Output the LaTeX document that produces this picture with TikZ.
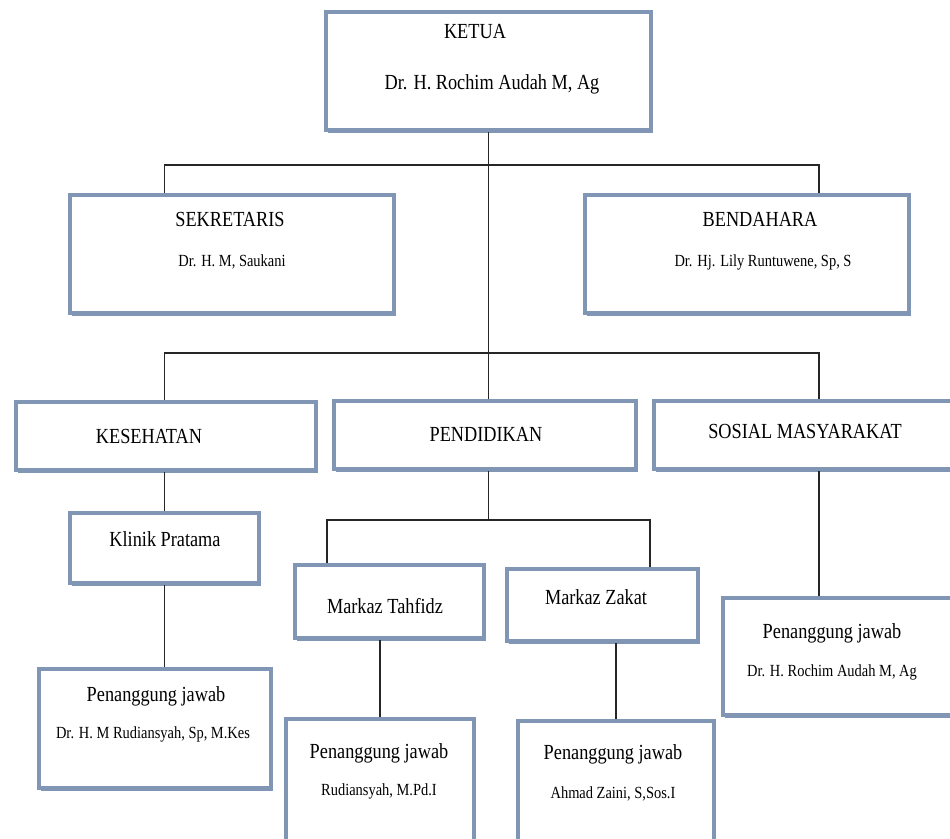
\documentclass[tikz,border=0pt]{standalone}
\usepackage{fontspec}
\setmainfont{Liberation Serif}[FakeStretch=0.85]
\usepackage{tikz}
\usetikzlibrary{shadows}
\definecolor{boxblue}{RGB}{128,150,180}

\begin{document}
\begin{tikzpicture}[x=1pt, y=-1pt,
    box/.style={draw=boxblue, line width=4.5pt, fill=white, rectangle,
        drop shadow={shadow xshift=2pt, shadow yshift=-2.5pt, fill=boxblue, opacity=1}},
    big/.style={font=\fontsize{21.5}{24}\selectfont, text height=0.66em, text depth=0pt, inner sep=0pt, yshift=-3pt},
    small/.style={font=\fontsize{17}{20}\selectfont, text height=0.66em, text depth=0pt, inner sep=0pt, yshift=-3pt},
    link/.style={line width=1.2pt, black!85}]
    \useasboundingbox (0,0) rectangle (950,838);
    \clip (0,0) rectangle (950,838);

    % Boxes
    \node[box, minimum width=325pt, minimum height=118pt] (ketua) at (488.5,71) {};
    \node[box, minimum width=324pt, minimum height=118pt] (sekretaris) at (232,254) {};
    \node[box, minimum width=324pt, minimum height=118pt] (bendahara) at (747,254) {};
    \node[box, minimum width=300pt, minimum height=68pt] (kesehatan) at (166,436) {};
    \node[box, minimum width=302pt, minimum height=68pt] (pendidikan) at (485,435) {};
    \node[box, minimum width=330pt, minimum height=68pt] (sosial) at (819,435) {};
    \node[box, minimum width=189pt, minimum height=70pt] (klinik) at (164.5,548) {};
    \node[box, minimum width=232pt, minimum height=119pt] (pjkes) at (155,728.5) {};
    \node[box, minimum width=189pt, minimum height=73pt] (tahfidz) at (389.5,601.5) {};
    \node[box, minimum width=191pt, minimum height=72pt] (zakat) at (602.5,605) {};
    \node[box, minimum width=188pt, minimum height=125pt] (pjtahfidz) at (380,781.5) {};
    \node[box, minimum width=196pt, minimum height=125pt] (pjzakat) at (616,783.5) {};
    \node[box, minimum width=256pt, minimum height=117pt] (pjsosial) at (851,656.5) {};

    % Texts
    \node[big] (ketuaT) at (475,32) {KETUA};
    \node[big] (ketuaN) at (492,83) {Dr. H. Rochim Audah M, Ag};
    \node[big] (sekretarisT) at (230,220) {SEKRETARIS};
    \node[small] (sekretarisN) at (232,260) {Dr. H. M, Saukani};
    \node[big] (bendaharaT) at (760,220) {BENDAHARA};
    \node[small] (bendaharaN) at (763,260) {Dr. Hj. Lily Runtuwene, Sp, S};
    \node[big] (kesehatanT) at (149,437) {KESEHATAN};
    \node[big] (pendidikanT) at (486,435) {PENDIDIKAN};
    \node[big] (sosialT) at (805,432) {SOSIAL MASYARAKAT};
    \node[big] (klinikT) at (165,540) {Klinik Pratama};
    \node[big] (tahfidzT) at (385,607) {Markaz Tahfidz};
    \node[big] (zakatT) at (596,598) {Markaz Zakat};
    \node[big] (pjkesT) at (156,695) {Penanggung jawab};
    \node[small] (pjkesN) at (153,732) {Dr. H. M Rudiansyah, Sp, M.Kes};
    \node[big] (pjtahfidzT) at (379,752) {Penanggung jawab};
    \node[small] (pjtahfidzN) at (379,789) {Rudiansyah, M.Pd.I};
    \node[big] (pjzakatT) at (613,753) {Penanggung jawab};
    \node[small] (pjzakatN) at (613,792) {Ahmad Zaini, S,Sos.I};
    \node[big] (pjsosialT) at (832,632) {Penanggung jawab};
    \node[small] (pjsosialN) at (832,670) {Dr. H. Rochim Audah M, Ag};

    % Connectors
    \coordinate (bus1) at (488,165);
    \coordinate (bus2) at (488,353);
    \coordinate (tz) at (327,520);
    \coordinate (zk) at (650,520);
    \draw[link] (ketua.south) -- (ketua.south |- pendidikan.north);
    \draw[link] (sekretaris.north -| klinik) |- (bus1) -| (bendahara.north -| sosial);
    \draw[link] (kesehatan.north -| klinik) |- (bus2) -| (sosial.north);
    \draw[link] (klinik.north |- kesehatan.south) -- (klinik.north);
    \draw[link] (klinik.south) -- (klinik.south |- pjkes.north);
    \draw[link] (pendidikan.south -| ketua.south) -- (ketua.south |- tz);
    \draw[link] (tz |- tahfidz.north) -- (tz) -- (zk) -- (zk |- zakat.north);
    \draw[link] (pjtahfidz.north |- tahfidz.south) -- (pjtahfidz.north);
    \draw[link] (pjzakat.north |- zakat.south) -- (pjzakat.north);
    \draw[link] (sosial.south) -- (sosial.south |- pjsosial.north);
\end{tikzpicture}
\end{document}
